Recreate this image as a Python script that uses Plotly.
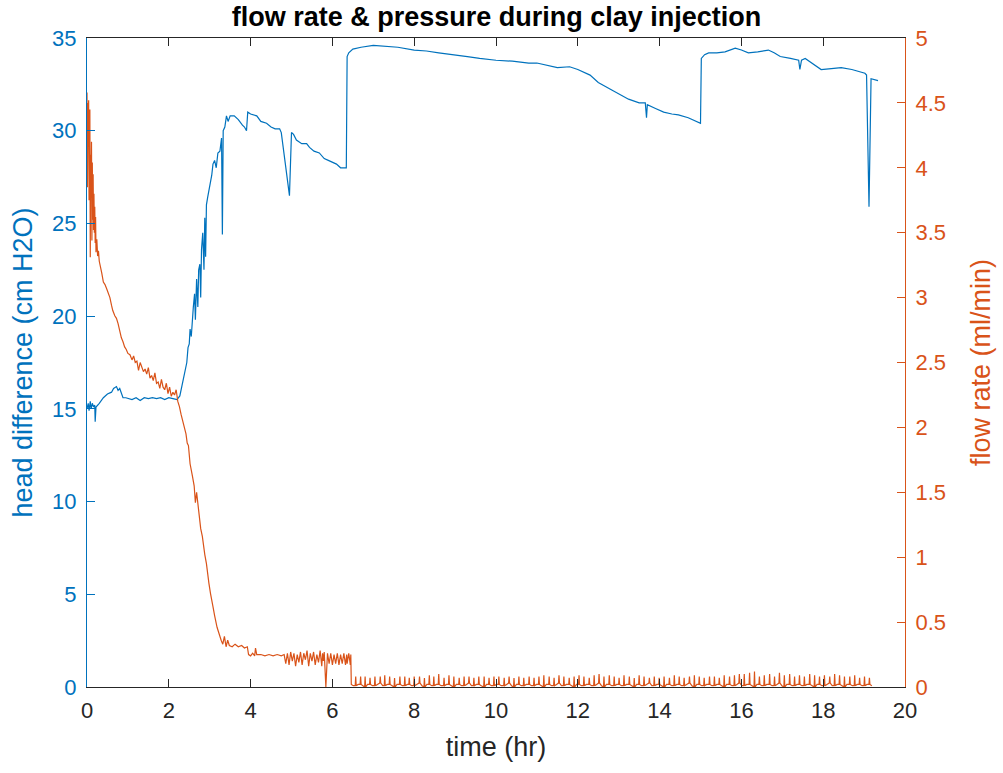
import plotly.graph_objects as go

# ---------------- data ----------------
head_t = [0.0, 0.03, 0.05, 0.08, 0.1, 0.13, 0.16, 0.19, 0.2, 0.22, 0.3, 0.4, 0.5, 0.6, 0.65, 0.72, 0.76, 0.8,
          0.88, 0.95, 1.1, 1.2, 1.3, 1.4, 1.5, 1.6, 1.7, 1.8, 1.9, 2.0, 2.1, 2.2, 2.27, 2.35, 2.44, 2.47, 2.5,
          2.52, 2.55, 2.6, 2.63, 2.65, 2.68, 2.71, 2.73, 2.76, 2.78, 2.8, 2.83, 2.86, 2.88, 2.9, 2.92, 2.95,
          3.0, 3.05, 3.08, 3.12, 3.16, 3.2, 3.25, 3.29, 3.31, 3.33, 3.37, 3.41, 3.45, 3.5, 3.6, 3.7, 3.8,
          3.85, 3.9, 3.93, 4.0, 4.15, 4.25, 4.39, 4.5, 4.6, 4.71, 4.75, 4.95, 5.0, 5.05, 5.12, 5.25, 5.37,
          5.44, 5.55, 5.68, 5.8, 5.9, 6.0, 6.1, 6.2, 6.3, 6.34, 6.36, 6.4, 6.5, 6.7, 7.0, 7.3, 7.6, 8.0, 8.3,
          8.6, 9.0, 9.3, 9.6, 10.0, 10.4, 10.8, 11.0, 11.3, 11.5, 11.8, 12.0, 12.3, 12.5, 12.83, 13.0, 13.24,
          13.5, 13.65, 13.68, 13.7, 13.9, 14.1, 14.3, 14.46, 14.7, 14.9, 15.0, 15.02, 15.1, 15.2, 15.4, 15.6,
          15.85, 16.0, 16.17, 16.4, 16.66, 16.8, 16.95, 17.2, 17.4, 17.43, 17.47, 17.56, 17.75, 17.95, 18.2,
          18.44, 18.7, 18.9, 19.02, 19.06, 19.12, 19.17, 19.25, 19.34]
head_v = [15.0, 15.3, 14.9, 15.4, 15.0, 15.3, 15.1, 15.2, 14.3, 15.1, 15.3, 15.6, 15.8, 15.9, 16.1, 16.2, 16.0,
          16.1, 15.6, 15.6, 15.5, 15.6, 15.45, 15.6, 15.55, 15.6, 15.55, 15.6, 15.5, 15.6, 15.55, 15.5, 15.7,
          16.5, 17.5, 18.3, 18.5, 19.3, 18.9, 20.5, 21.2, 19.8, 22.0, 20.5, 22.5, 22.8, 21.0, 23.6, 24.5, 22.5,
          25.3, 23.2, 26.0, 26.4, 27.0, 27.6, 28.2, 28.4, 28.0, 28.8, 28.9, 29.6, 24.4, 30.0, 30.2, 30.8, 30.5,
          30.8, 30.8, 30.6, 30.3, 30.2, 30.0, 31.0, 30.9, 30.8, 30.5, 30.4, 30.2, 30.1, 30.1, 29.9, 26.5, 29.9,
          29.8, 29.5, 29.3, 29.3, 29.1, 28.9, 28.8, 28.5, 28.4, 28.3, 28.2, 28.0, 28.0, 28.0, 34.0, 34.2, 34.4,
          34.5, 34.6, 34.55, 34.5, 34.35, 34.3, 34.2, 34.1, 34.0, 33.9, 33.8, 33.75, 33.65, 33.65, 33.5, 33.4,
          33.45, 33.3, 33.0, 32.6, 32.2, 32.0, 31.7, 31.5, 31.5, 30.7, 31.4, 31.2, 31.0, 30.9, 30.85, 30.7,
          30.5, 30.4, 33.9, 34.1, 34.2, 34.2, 34.25, 34.45, 34.35, 34.2, 34.25, 34.35, 34.2, 34.0, 33.9, 33.8,
          33.3, 33.8, 33.9, 33.6, 33.3, 33.35, 33.4, 33.3, 33.15, 33.1, 33.0, 25.9, 32.8, 32.75, 32.7]

# flow rate up to the end of the first stage
flow_t = [0.0, 0.01, 0.02, 0.03, 0.04, 0.05, 0.06, 0.07, 0.08, 0.09, 0.1, 0.11, 0.12, 0.13, 0.14, 0.15, 0.16,
          0.17, 0.18, 0.19, 0.2, 0.21, 0.22, 0.24, 0.26, 0.28, 0.3, 0.33, 0.36, 0.4, 0.44, 0.49, 0.53, 0.56,
          0.6, 0.63, 0.68, 0.72, 0.76, 0.8, 0.84, 0.88, 0.92, 0.96, 1.0, 1.05, 1.1, 1.14, 1.18, 1.22, 1.26,
          1.3, 1.34, 1.38, 1.42, 1.46, 1.5, 1.54, 1.58, 1.62, 1.66, 1.7, 1.74, 1.78, 1.82, 1.86, 1.9, 1.94,
          1.98, 2.02, 2.06, 2.1, 2.14, 2.18, 2.22, 2.26, 2.3, 2.34, 2.38, 2.42, 2.45, 2.48, 2.52, 2.55, 2.58,
          2.62, 2.65, 2.68, 2.72, 2.75, 2.78, 2.82, 2.85, 2.88, 2.92, 2.95, 2.98, 3.02, 3.05, 3.08, 3.12, 3.15,
          3.18, 3.22, 3.25, 3.28, 3.32, 3.36, 3.4, 3.44, 3.48, 3.55, 3.62, 3.7, 3.78, 3.85, 3.92, 3.95, 4.0,
          4.05, 4.1, 4.12, 4.15, 4.25, 4.35, 4.45, 4.55, 4.65, 4.75, 4.82, 4.86, 4.9, 4.94, 4.98, 5.02, 5.06,
          5.1, 5.14, 5.18, 5.22, 5.26, 5.3, 5.34, 5.38, 5.42, 5.46, 5.5, 5.54, 5.58, 5.62, 5.66, 5.7, 5.74,
          5.76, 5.78, 5.8, 5.84, 5.88, 5.92, 5.96, 6.0, 6.04, 6.08, 6.12, 6.16, 6.2, 6.24, 6.28, 6.32, 6.35,
          6.36, 6.4]
flow_v = [4.58, 3.85, 4.5, 4.16, 4.52, 3.75, 4.3, 4.45, 3.31, 4.1, 3.9, 4.2, 3.44, 4.04, 3.6, 3.95, 3.52, 3.8,
          3.5, 3.7, 3.42, 3.62, 3.35, 3.45, 3.32, 3.36, 3.28, 3.22, 3.19, 3.12, 3.1, 3.06, 3.03, 3.0, 2.94, 2.9,
          2.86, 2.84, 2.8, 2.74, 2.69, 2.66, 2.62, 2.6, 2.57, 2.56, 2.52, 2.55, 2.5, 2.51, 2.44, 2.5, 2.47, 2.43,
          2.45, 2.41, 2.46, 2.38, 2.4, 2.36, 2.42, 2.34, 2.35, 2.3, 2.37, 2.31, 2.29, 2.34, 2.26, 2.31, 2.24,
          2.27, 2.25, 2.29, 2.2, 2.16, 2.1, 2.05, 2.02, 1.95, 1.88, 1.86, 1.72, 1.68, 1.62, 1.55, 1.42, 1.5,
          1.38, 1.3, 1.22, 1.16, 1.08, 1.02, 0.95, 0.86, 0.8, 0.72, 0.65, 0.62, 0.55, 0.5, 0.46, 0.42, 0.38,
          0.36, 0.33, 0.39, 0.31, 0.36, 0.32, 0.31, 0.33, 0.31, 0.32, 0.3, 0.31, 0.25, 0.24, 0.26, 0.24, 0.3,
          0.25, 0.25, 0.24, 0.25, 0.24, 0.25, 0.24, 0.25, 0.18, 0.26, 0.17, 0.27, 0.2, 0.26, 0.16, 0.25, 0.19,
          0.27, 0.17, 0.26, 0.21, 0.28, 0.16, 0.26, 0.2, 0.27, 0.17, 0.25, 0.19, 0.28, 0.16, 0.26, 0.2, 0.27,
          0.0, 0.26, 0.18, 0.26, 0.17, 0.25, 0.18, 0.26, 0.17, 0.25, 0.18, 0.26, 0.17, 0.25, 0.18, 0.26, 0.17,
          0.25, 0.02, 0.01]

# later stage: periodic small spikes on a near-zero baseline
spike_t = [6.45, 6.57, 6.69, 6.8, 6.92, 7.04, 7.17, 7.28, 7.4, 7.52, 7.65, 7.77, 7.88, 8.0, 8.13, 8.25, 8.37,
           8.48, 8.6, 8.73, 8.85, 8.97, 9.1, 9.22, 9.34, 9.46, 9.58, 9.71, 9.83, 9.95, 10.07, 10.2, 10.32,
           10.44, 10.56, 10.68, 10.81, 10.93, 11.05, 11.17, 11.3, 11.42, 11.54, 11.66, 11.79, 11.91, 12.03,
           12.15, 12.28, 12.4, 12.52, 12.64, 12.77, 12.89, 13.01, 13.13, 13.26, 13.38, 13.5, 13.62, 13.75,
           13.87, 13.99, 14.11, 14.24, 14.36, 14.48, 14.6, 14.73, 14.85, 14.97, 15.09, 15.22, 15.34, 15.46,
           15.58, 15.71, 15.83, 15.95, 16.07, 16.2, 16.32, 16.44, 16.56, 16.69, 16.81, 16.93, 17.05, 17.18,
           17.3, 17.42, 17.54, 17.67, 17.79, 17.91, 18.03, 18.16, 18.28, 18.4, 18.52, 18.65, 18.77, 18.89,
           19.01, 19.13]
spike_v = [0.08, 0.08, 0.08, 0.07, 0.08, 0.08, 0.09, 0.08, 0.07, 0.08, 0.08, 0.07, 0.08, 0.08, 0.07, 0.09,
           0.08, 0.1, 0.07, 0.09, 0.08, 0.07, 0.08, 0.08, 0.07, 0.08, 0.08, 0.07, 0.08, 0.08, 0.07, 0.08,
           0.07, 0.08, 0.07, 0.08, 0.07, 0.08, 0.09, 0.08, 0.07, 0.09, 0.08, 0.07, 0.08, 0.09, 0.08, 0.07,
           0.09, 0.1, 0.08, 0.09, 0.08, 0.07, 0.09, 0.08, 0.07, 0.09, 0.08, 0.07, 0.08, 0.07, 0.08, 0.07, 0.09,
           0.08, 0.07, 0.08, 0.09, 0.08, 0.07, 0.08, 0.08, 0.07, 0.09, 0.08, 0.09, 0.1, 0.1, 0.11, 0.12, 0.08,
           0.09, 0.1, 0.08, 0.11, 0.09, 0.1, 0.08, 0.09, 0.08, 0.1, 0.09, 0.08, 0.09, 0.08, 0.1, 0.09, 0.08,
           0.08, 0.09, 0.07, 0.08, 0.07, 0.07]
trough_v = [0.01, 0.02, 0.0, 0.02, 0.01, 0.03, 0.01, 0.02, 0.0, 0.02, 0.01, 0.02, 0.01, 0.03, 0.0, 0.02,
            0.01, 0.02, 0.01, 0.02, 0.0, 0.02, 0.01, 0.03, 0.01, 0.02, 0.0, 0.02, 0.01, 0.02, 0.01, 0.03,
            0.0, 0.02, 0.01, 0.02, 0.01, 0.02, 0.0, 0.02, 0.01, 0.03, 0.01, 0.02, 0.0, 0.02, 0.01, 0.02,
            0.01, 0.03, 0.0, 0.02, 0.01, 0.02, 0.01, 0.02, 0.0, 0.02, 0.01, 0.03, 0.01, 0.02, 0.0, 0.02, 0.01,
            0.02, 0.01, 0.03, 0.0, 0.02, 0.01, 0.02, 0.01, 0.02, 0.0, 0.02, 0.01, 0.03, 0.01, 0.02, 0.0, 0.02,
            0.01, 0.02, 0.01, 0.03, 0.0, 0.02, 0.01, 0.02, 0.01, 0.02, 0.0, 0.02, 0.01, 0.03, 0.01, 0.02, 0.0,
            0.02, 0.01, 0.02, 0.01, 0.02, 0.01]

x_ticks = [0, 2, 4, 6, 8, 10, 12, 14, 16, 18, 20]
y1_ticks = [0, 5, 10, 15, 20, 25, 30, 35]
y2_ticks = [0, 0.5, 1, 1.5, 2, 2.5, 3, 3.5, 4, 4.5, 5]

BLUE = "#0072BD"
ORANGE = "#D95319"
DARK = "#262626"
FONT = "Liberation Sans, Arial, Helvetica, sans-serif"
TICK_SIZE = 22
LABEL_SIZE = 27

# assemble flow series: first stage + spike train
ft = list(flow_t)
fv = list(flow_v)
for t, v, b in zip(spike_t, spike_v, trough_v):
    ft += [t - 0.012, t, t + 0.012, t + 0.06]
    fv += [b, v, b, 0.01 if b > 0.01 else 0.02]

fig = go.Figure()
fig.add_trace(go.Scatter(x=head_t, y=head_v, mode="lines", line=dict(color=BLUE, width=1.2),
                         yaxis="y", showlegend=False))
fig.add_trace(go.Scatter(x=ft, y=fv, mode="lines", line=dict(color=ORANGE, width=1.2),
                         yaxis="y2", showlegend=False))

fig.update_layout(
    width=1003, height=773,
    margin=dict(l=87, r=96, t=38, b=86),
    paper_bgcolor="white", plot_bgcolor="white",
    font=dict(family=FONT, size=TICK_SIZE, color=DARK),
    title=dict(text="<b>flow rate &amp; pressure during clay injection</b>", x=0.495, xanchor="center",
               y=0.978, yanchor="middle", font=dict(family=FONT, size=27, color="black")),
    xaxis=dict(range=[0, 20], tickvals=x_ticks, ticks="inside", ticklen=8, tickcolor=DARK,
               showline=True, linecolor=DARK, linewidth=1, mirror="ticks", showgrid=False,
               zeroline=False, tickfont=dict(size=TICK_SIZE, color=DARK), ticklabelstandoff=4,
               title=dict(text="time (hr)", font=dict(size=LABEL_SIZE, color=DARK), standoff=14)),
    yaxis=dict(range=[0, 35], tickvals=y1_ticks, ticks="inside", ticklen=8, tickcolor=BLUE,
               showline=True, linecolor=BLUE, linewidth=1, showgrid=False, zeroline=False,
               tickfont=dict(size=TICK_SIZE, color=BLUE), ticklabelstandoff=5,
               title=dict(text="head difference (cm H2O)", font=dict(size=LABEL_SIZE, color=BLUE), standoff=11)),
    yaxis2=dict(range=[0, 5], tickvals=y2_ticks, ticktext=[("%g" % v) for v in y2_ticks],
                overlaying="y", side="right", ticks="inside", ticklen=8, tickcolor=ORANGE,
                showline=True, linecolor=ORANGE, linewidth=1, showgrid=False, zeroline=False,
                tickfont=dict(size=TICK_SIZE, color=ORANGE), ticklabelstandoff=5,
                title=dict(text="flow rate (ml/min)", font=dict(size=LABEL_SIZE, color=ORANGE), standoff=26)),
)

fig.write_html("out.html")
